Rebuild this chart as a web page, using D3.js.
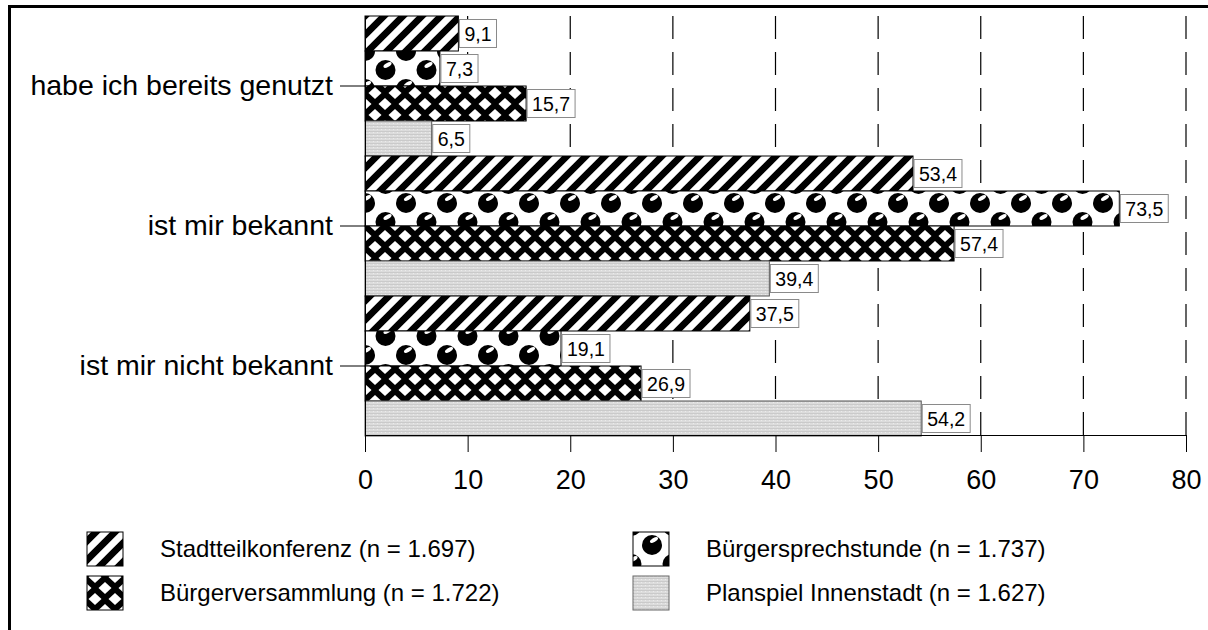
<!DOCTYPE html>
<html>
<head>
<meta charset="utf-8">
<script src="https://cdn.jsdelivr.net/npm/d3@7"></script>
<style>
  body { margin: 0; background: #fff; }
  svg { display: block; font-family: 'Liberation Sans', Arial, sans-serif; }
</style>
</head>
<body>
<div id="chart"></div>
<script>
/* global d3 */

// ----------------------------------------
// Data
// ----------------------------------------
let categories = ['habe ich bereits genutzt', 'ist mir bekannt', 'ist mir nicht bekannt']
let seriesNames = [
  'Stadtteilkonferenz (n = 1.697)',
  'Bürgersprechstunde (n = 1.737)',
  'Bürgerversammlung (n = 1.722)',
  'Planspiel Innenstadt (n = 1.627)'
]
let seriesKeys = ['stripes', 'dots', 'cross', 'gray']
let stadtteilkonferenz = [9.1, 53.4, 37.5]
let buergersprechstunde = [7.3, 73.5, 19.1]
let buergerversammlung = [15.7, 57.4, 26.9]
let planspiel = [6.5, 39.4, 54.2]
let seriesValues = [stadtteilkonferenz, buergersprechstunde, buergerversammlung, planspiel]
let xTicks = [0, 10, 20, 30, 40, 50, 60, 70, 80]

// legend order as in the picture: two columns
let legendOrder = [0, 2, 1, 3]

var width = 1208
var height = 630

var de = d3.formatLocale({ decimal: ',', thousands: '.', grouping: [3], currency: ['', ' €'] })
var fmt = de.format('.1f')

var svg = d3.select('#chart').append('svg')
  .attr('width', width)
  .attr('height', height)

// ----------------------------------------
// Patterns
// ----------------------------------------
var defs = svg.append('defs')

var pStripes = defs.append('pattern')
  .attr('id', 'stripes')
  .attr('patternUnits', 'userSpaceOnUse')
  .attr('x', 365).attr('y', 16)
  .attr('width', 19).attr('height', 19)
pStripes.append('rect').attr('width', 19).attr('height', 19).attr('fill', '#fff')
pStripes.append('path')
  .attr('d', 'M-4.75,4.75L4.75,-4.75M0,19L19,0M14.25,23.75L23.75,14.25')
  .attr('stroke', '#000')
  .attr('stroke-width', 6.8)

// spheres: row A on x = 0, row B shifted by half a tile
var pDots = defs.append('pattern')
  .attr('id', 'dots')
  .attr('patternUnits', 'userSpaceOnUse')
  .attr('x', 365).attr('y', 16)
  .attr('width', 41).attr('height', 38)
pDots.append('rect').attr('width', 41).attr('height', 38).attr('fill', '#fff')
var dotCentres = [[0, 35], [41, 35], [0, -3], [41, -3], [20.5, 16]]
dotCentres.forEach(c => {
  pDots.append('circle')
    .attr('cx', c[0]).attr('cy', c[1]).attr('r', 10)
    .attr('fill', '#000')
  pDots.append('ellipse')
    .attr('cx', c[0] + 2).attr('cy', c[1] - 5)
    .attr('rx', 4.5).attr('ry', 2)
    .attr('transform', 'rotate(-30,' + (c[0] + 2) + ',' + (c[1] - 5) + ')')
    .attr('fill', '#fff')
})

var pCross = defs.append('pattern')
  .attr('id', 'cross')
  .attr('patternUnits', 'userSpaceOnUse')
  .attr('x', 365).attr('y', 16)
  .attr('width', 20).attr('height', 22)
pCross.append('rect').attr('width', 20).attr('height', 22).attr('fill', '#000')
var diamonds = [[0, 0], [20, 0], [0, 22], [20, 22], [10, 11]]
diamonds.forEach(c => {
  pCross.append('path')
    .attr('d', 'M' + (c[0] - 6.5) + ',' + c[1] + 'L' + c[0] + ',' + (c[1] - 6) +
      'L' + (c[0] + 6.5) + ',' + c[1] + 'L' + c[0] + ',' + (c[1] + 6) + 'Z')
    .attr('fill', '#fff')
})

var pGray = defs.append('pattern')
  .attr('id', 'gray')
  .attr('patternUnits', 'userSpaceOnUse')
  .attr('width', 4).attr('height', 3)
pGray.append('rect').attr('width', 4).attr('height', 3).attr('fill', '#dcdcdc')
pGray.append('rect').attr('y', 2).attr('width', 4).attr('height', 1).attr('fill', '#cacaca')
pGray.append('rect').attr('x', 1).attr('width', 1).attr('height', 1).attr('fill', '#ebebeb')

// ----------------------------------------
// Frame
// ----------------------------------------
svg.append('rect')
  .attr('x', 9.5).attr('y', 6.5)
  .attr('width', 1400).attr('height', 800)
  .attr('fill', 'none')
  .attr('stroke', '#000')
  .attr('stroke-width', 3)

// ----------------------------------------
// Scales
// ----------------------------------------
var x = d3.scaleLinear().domain([0, 80]).range([365, 1186])
var y = d3.scaleBand().domain(categories).range([16, 436]).padding(0)
var yInner = d3.scaleBand().domain(seriesKeys).range([0, y.bandwidth()]).padding(0)

// gridlines
svg.append('g').attr('class', 'grid')
  .selectAll('line')
  .data(xTicks.filter(d => d > 0))
  .enter().append('line')
    .attr('x1', d => x(d)).attr('x2', d => x(d))
    .attr('y1', 16).attr('y2', 435)
    .attr('stroke', '#000')
    .attr('stroke-width', 1.2)
    .attr('stroke-dasharray', '23,13')

// bars
var rows = []
categories.forEach((c, ci) => {
  seriesKeys.forEach((k, si) => {
    rows.push({ cat: c, key: k, value: seriesValues[si][ci] })
  })
})

var barsGroup = svg.append('g').attr('class', 'bars')
barsGroup.selectAll('rect')
  .data(rows)
  .enter().append('rect')
    .attr('x', x(0))
    .attr('y', d => y(d.cat) + yInner(d.key))
    .attr('width', d => x(d.value) - x(0))
    .attr('height', yInner.bandwidth())
    .attr('fill', d => 'url(#' + d.key + ')')
    .attr('stroke', d => d.key === 'gray' ? '#555' : '#000')
    .attr('stroke-width', 1)

// axes
var xAxis = svg.append('g')
  .attr('transform', 'translate(0,435)')
  .call(d3.axisBottom(x).tickValues(xTicks).tickSize(17).tickSizeOuter(0).tickPadding(18))
xAxis.selectAll('text')
  .attr('fill', '#000')
  .style('font-size', '27px')
  .style('font-family', "'Liberation Sans', Arial, sans-serif")
xAxis.selectAll('line, path').attr('stroke', '#000')

var yAxis = svg.append('g')
  .attr('transform', 'translate(365,0)')
  .call(d3.axisLeft(y).tickSize(25).tickSizeOuter(0).tickPadding(7))
yAxis.selectAll('text')
  .attr('fill', '#000')
  .style('font-size', '28.5px')
  .style('font-family', "'Liberation Sans', Arial, sans-serif")
yAxis.selectAll('line, path').attr('stroke', '#000')

// value labels
var labelsGroup = svg.append('g').attr('class', 'value-labels')
var labels = labelsGroup.selectAll('g')
  .data(rows)
  .enter().append('g')
    .attr('transform', d => 'translate(' + (x(d.value) + 1) + ',' +
      (y(d.cat) + yInner(d.key) + yInner.bandwidth() / 2) + ')')

labels.append('rect')
  .attr('class', 'box')
  .attr('y', -14)
  .attr('height', 28)
  .attr('fill', '#fff')
  .attr('stroke', '#8a8a8a')
  .attr('stroke-width', 1)

labels.append('text')
  .attr('x', 5)
  .attr('dy', '0.36em')
  .style('font-size', '19.5px')
  .attr('fill', '#000')
  .text(d => fmt(d.value))

labels.each(function () {
  var g = d3.select(this)
  var w = g.select('text').node().getComputedTextLength()
  g.select('rect.box').attr('width', w + 10)
})

// ----------------------------------------
// Legend
// ----------------------------------------
var legendPos = [
  { sx: 87, tx: 160, y: 532 },
  { sx: 87, tx: 160, y: 576 },
  { sx: 633, tx: 706, y: 532 },
  { sx: 633, tx: 706, y: 576 }
]

var legend = svg.append('g').attr('class', 'legend')
legendOrder.forEach((si, i) => {
  var p = legendPos[i]
  legend.append('rect')
    .attr('x', p.sx).attr('y', p.y)
    .attr('width', 36).attr('height', 34)
    .attr('fill', 'url(#' + seriesKeys[si] + ')')
    .attr('stroke', seriesKeys[si] === 'gray' ? '#666' : '#000')
    .attr('stroke-width', 1)
  legend.append('text')
    .attr('x', p.tx).attr('y', p.y + 17)
    .attr('dy', '0.35em')
    .style('font-size', '24px')
    .attr('fill', '#000')
    .text(seriesNames[si])
})
</script>
</body>
</html>
